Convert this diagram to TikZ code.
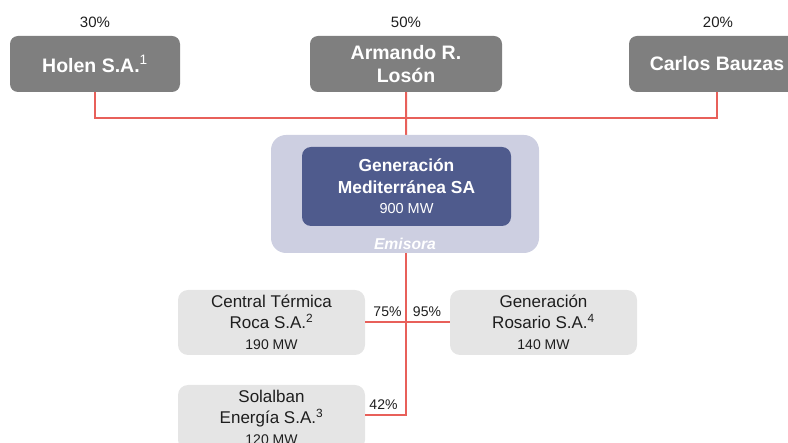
\documentclass[tikz,border=0pt]{standalone}
\usepackage{fontspec}
\setmainfont{Liberation Sans}
\usetikzlibrary{backgrounds}
\definecolor{ownbox}{HTML}{7F7F7F}
\definecolor{subbox}{HTML}{E5E5E5}
\definecolor{outerbox}{HTML}{CDCFE1}
\definecolor{innerbox}{HTML}{4F5B8D}
\definecolor{linkred}{HTML}{E8605A}
\definecolor{txt}{HTML}{1E1E1E}
\newcommand{\supnum}[1]{\textsuperscript{\normalfont #1}}
\tikzset{
  owner/.style={fill=ownbox, rounded corners=8pt, text=white, align=center,
    font=\fontsize{19.5}{23}\selectfont\bfseries, inner sep=0pt, minimum height=56pt},
  subsid/.style={fill=subbox, rounded corners=10pt, text=txt, align=center,
    font=\fontsize{17}{21}\selectfont, inner sep=0pt, minimum width=187pt, minimum height=65pt},
  pct/.style={text=txt, font=\fontsize{15}{18}\selectfont, inner sep=0pt},
  spct/.style={text=txt, font=\fontsize{14}{17}\selectfont, inner sep=0pt},
  link/.style={draw=linkred, line width=2pt},
  mw/.style={}
}
\begin{document}
\begin{tikzpicture}[x=1pt,y=-1pt]
\useasboundingbox (0,0) rectangle (788,443);
% owners
\node[owner, minimum width=170pt] (holen) at (95,64) {Holen S.A.\supnum{1}};
\node[owner, minimum width=192pt] (armando) at (406,64) {Armando R.\\Losón};
\node[owner, minimum width=176pt] (carlos) at (717,64) {Carlos Bauzas};
\node[pct] (p30) at (95,22.5) {30\%};
\node[pct] (p50) at (406,22.5) {50\%};
\node[pct] (p20) at (718,22.5) {20\%};
% issuer
\node[fill=outerbox, rounded corners=15pt, minimum width=268pt, minimum height=118pt, inner sep=0pt] (em) at (405,194) {};
\node[fill=innerbox, rounded corners=9pt, minimum width=209pt, minimum height=79pt, inner sep=0pt,
  text=white, align=center, font=\fontsize{17.4}{21.5}\selectfont\bfseries] (gm) at (406.5,186.5)
  {Generación\\Mediterránea SA\\[-1pt]{\fontsize{14.5}{17}\selectfont\mdseries 900 MW}};
\node[text=white, font=\fontsize{15.7}{18}\selectfont\bfseries\itshape, inner sep=0pt] (emt) at (405,243.5) {Emisora};
% subsidiaries
\node[subsid] (ct) at (271.5,322.5) {Central Térmica\\Roca S.A.\supnum{2}\\{\fontsize{14}{17}\selectfont 190 MW}};
\node[subsid] (gr) at (543.5,322.5) {Generación\\Rosario S.A.\supnum{4}\\{\fontsize{14}{17}\selectfont 140 MW}};
\node[subsid] (sol) at (271.5,417.5) {Solalban\\Energía S.A.\supnum{3}\\{\fontsize{14}{17}\selectfont 120 MW}};
\node[spct] (p75) at (387.5,312) {75\%};
\node[spct] (p95) at (427,312) {95\%};
\node[spct] (p42) at (383.5,405) {42\%};
% connectors
\coordinate (bar) at (406,118);
\coordinate (down) at (406,415);
\begin{scope}[on background layer]
\draw[link] (holen.south) |- (bar) -| (carlos.south);
\draw[link] (armando.south) -- (bar) -- (gm.center);
\end{scope}
\draw[link] (emt.south |- em.south) ++(1,0) -- (down) -- (down -| sol.east);
\draw[link] (ct.east) -- (gr.west);
\end{tikzpicture}
\end{document}
